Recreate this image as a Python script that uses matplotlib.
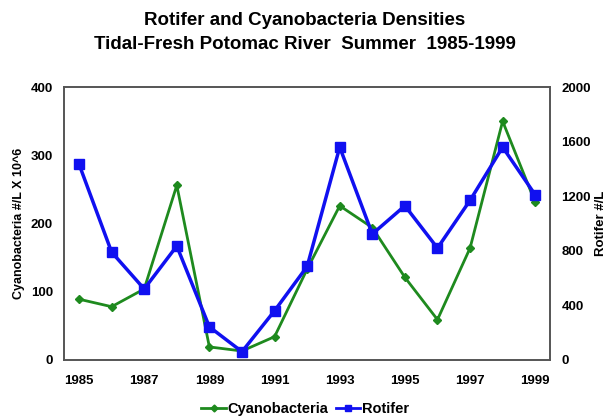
import matplotlib.pyplot as plt

plt.rcParams["font.family"] = ["Liberation Sans", "DejaVu Sans"]
plt.rcParams["font.weight"] = "bold"

years = list(range(1985, 2000))
cyanobacteria = [89, 78, 104, 256, 19, 13, 34, 133, 226, 194, 121, 59, 164, 350, 231]
rotifer = [1435, 790, 520, 835, 242, 60, 360, 685, 1560, 923, 1130, 820, 1170, 1560, 1210]
year_ticks = [1985, 1987, 1989, 1991, 1993, 1995, 1997, 1999]

green = "#1e8a1e"
blue = "#1010f0"

fig = plt.figure(figsize=(6.10, 4.17), dpi=100)
ax = fig.add_axes([0.105, 0.137, 0.797, 0.654])
ax2 = ax.twinx()

ax.plot(years, cyanobacteria, color=green, lw=2, marker="D", ms=4.5, zorder=2)
ax2.plot(years, rotifer, color=blue, lw=2.5, marker="s", ms=7, zorder=3)

ax.set_xlim(1984.54, 1999.46)
ax.set_ylim(0, 400)
ax2.set_ylim(0, 2000)
ax.set_xticks(year_ticks)
ax.set_yticks([0, 100, 200, 300, 400])
ax2.set_yticks([0, 400, 800, 1200, 1600, 2000])

for a in (ax, ax2):
    a.tick_params(labelsize=9.5, length=0, colors="black", pad=8)
    for s in a.spines.values():
        s.set_color("#555555")
        s.set_linewidth(1.2)
ax.tick_params(axis="x", pad=11)

ax.set_ylabel("Cyanobacteria #/L X 10^6", fontsize=9, fontweight="bold", labelpad=4)
ax2.set_ylabel("Rotifer #/L", fontsize=9.5, fontweight="bold", labelpad=3)

fig.text(0.5, 0.952, "Rotifer and Cyanobacteria Densities", ha="center", va="center",
         fontsize=13.5, fontweight="bold")
fig.text(0.5, 0.893, "Tidal-Fresh Potomac River  Summer  1985-1999", ha="center",
         va="center", fontsize=13.5, fontweight="bold")

handles = [plt.Line2D([], [], color=green, lw=2, marker="D", ms=3.5),
           plt.Line2D([], [], color=blue, lw=2, marker="s", ms=5)]
fig.legend(handles=handles, labels=["Cyanobacteria", "Rotifer"], loc="center",
           bbox_to_anchor=(0.5, 0.018), ncol=2, frameon=False, fontsize=10.5,
           handlelength=1.7, handletextpad=0.1, columnspacing=0.5)

fig.savefig("out.png", dpi=100)
